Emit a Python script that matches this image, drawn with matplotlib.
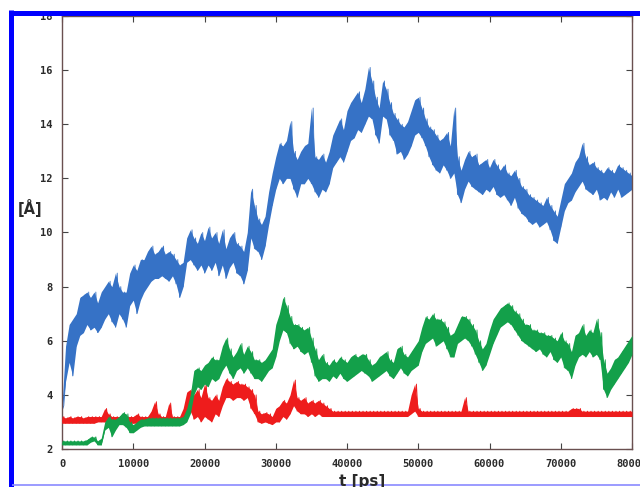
import numpy as np
import matplotlib
matplotlib.use("Agg")
import matplotlib.pyplot as plt
from matplotlib.lines import Line2D

# ---------------- data ----------------
# time axis (ps), every 500 ps; each series given as lower/upper edge of its noisy band
TIME = list(range(0, 80001, 500))

BLUE_LO = [3.4, 4.5, 5.2, 4.7, 5.8, 6.2, 6.3, 6.6, 6.4, 6.5,
           6.3, 6.5, 6.8, 7.0, 6.7, 6.5, 7.0, 6.8, 6.5, 7.3,
           7.5, 7.0, 7.5, 7.8, 8.0, 8.2, 8.3, 8.3, 8.4, 8.3,
           8.2, 8.4, 8.1, 7.6, 8.0, 8.9, 9.0, 8.8, 8.6, 8.8,
           8.5, 8.8, 8.6, 8.9, 8.4, 8.8, 8.3, 8.7, 8.9, 8.5,
           8.4, 8.1, 8.6, 9.8, 9.4, 9.3, 9.0, 9.5, 10.3, 11.0,
           11.6, 12.0, 11.8, 12.0, 12.0, 11.6, 11.3, 11.8, 11.8, 12.0,
           11.8, 11.5, 11.3, 11.6, 11.5, 11.8, 12.4, 12.6, 12.8, 12.6,
           13.0, 13.4, 13.5, 13.8, 13.7, 14.0, 14.3, 14.2, 13.6, 13.3,
           14.3, 14.2, 13.6, 13.4, 12.9, 13.0, 12.7, 12.9, 13.2, 13.6,
           13.7, 13.5, 13.2, 12.8, 12.5, 12.3, 12.2, 12.5, 12.3, 12.0,
           12.2, 11.4, 11.1, 11.6, 11.9, 11.7, 11.6, 11.5, 11.4, 11.6,
           11.5, 11.7, 11.4, 11.3, 11.4, 11.2, 11.0, 11.3, 10.9, 10.7,
           10.6, 10.4, 10.3, 10.4, 10.2, 10.3, 10.4, 10.1, 9.7, 9.6,
           10.2, 10.8, 11.1, 11.2, 11.5, 11.7, 11.9, 11.6, 11.5, 11.4,
           11.6, 11.2, 11.3, 11.2, 11.5, 11.3, 11.6, 11.3, 11.4, 11.5,
           11.6]
BLUE_HI = [3.6, 5.8, 6.6, 6.8, 7.0, 7.6, 7.7, 7.8, 7.6, 7.8,
           7.4, 7.8, 8.0, 8.2, 8.0, 8.5, 8.0, 7.8, 7.8, 8.5,
           8.8, 8.6, 9.0, 9.0, 9.3, 9.5, 9.2, 9.3, 9.5, 9.2,
           9.3, 9.2, 9.0, 8.8, 8.9, 9.8, 10.1, 9.8, 9.6, 10.0,
           9.7, 10.2, 9.8, 10.0, 9.6, 10.1, 9.4, 9.8, 10.0, 9.6,
           9.5, 9.3, 10.0, 11.6, 11.0, 10.5, 10.3, 10.6, 11.5, 12.2,
           12.8, 13.3, 13.2, 13.4, 14.1, 13.0, 12.7, 13.0, 13.2, 13.3,
           14.6, 12.8, 12.7, 12.9, 12.6, 13.0, 13.6, 13.9, 14.2, 13.8,
           14.5, 14.8, 15.0, 15.2, 14.8, 15.3, 16.1, 15.6, 15.0, 14.6,
           15.6, 15.3, 14.8, 14.4, 14.2, 14.0, 13.9, 14.1, 14.5, 14.9,
           15.0, 14.6, 14.2, 13.9, 13.8, 13.6, 13.4, 13.5, 13.7, 13.2,
           14.6, 12.8, 12.3, 12.7, 13.0, 12.8, 12.9, 12.5, 12.6, 12.7,
           12.4, 12.7, 12.5, 12.3, 12.5, 12.2, 12.1, 12.3, 12.0, 11.7,
           11.6, 11.4, 11.3, 11.2, 11.1, 11.0, 11.3, 11.0, 10.8, 10.6,
           11.2, 11.8, 12.0, 12.2, 12.6, 12.8, 13.3, 12.8, 12.5, 12.6,
           12.4, 12.3, 12.2, 12.4, 12.3, 12.2, 12.5, 12.4, 12.3, 12.2,
           12.1]

GREEN_LO = [2.15, 2.15, 2.15, 2.15, 2.15, 2.15, 2.15, 2.15, 2.25, 2.3,
            2.15, 2.15, 2.7, 2.8, 2.45, 2.7, 2.9, 2.9, 2.8, 2.6,
            2.6, 2.7, 2.8, 2.85, 2.85, 2.85, 2.85, 2.85, 2.85, 2.85,
            2.85, 2.85, 2.85, 2.85, 2.9, 3.0, 3.3, 4.0, 4.3, 4.2,
            4.4, 4.3, 4.6, 4.5, 4.6, 4.9, 5.1, 4.8, 4.6, 4.9,
            5.0, 4.8, 5.0, 4.8, 4.6, 4.6, 4.5, 4.7, 4.9, 5.0,
            5.4, 6.0, 6.4, 6.3, 5.9, 5.7, 5.8, 5.6, 5.5, 5.6,
            5.2, 4.7, 4.5, 4.6, 4.6, 4.5, 4.7, 4.6, 4.8, 4.6,
            4.5, 4.6, 4.7, 4.8, 4.9, 4.8, 4.7, 4.5, 4.6, 4.7,
            4.8, 4.9, 4.7, 4.6, 4.8, 5.0, 4.8, 4.7, 4.9, 5.0,
            5.1, 5.6, 5.9, 6.0, 6.1, 5.8, 5.9, 6.0, 5.7, 5.4,
            5.4, 5.9, 6.0, 6.1, 6.0, 5.8, 5.5, 5.2, 4.9, 5.1,
            5.5, 5.9, 6.2, 6.5, 6.6, 6.7, 6.6, 6.4, 6.2, 6.0,
            5.9, 5.8, 5.7, 5.6, 5.7, 5.5, 5.4, 5.6, 5.3, 5.2,
            5.4, 5.0, 4.9, 4.6, 5.1, 5.4, 5.5, 5.4, 5.6, 5.4,
            5.5, 5.3, 4.2, 3.9, 4.2, 4.4, 4.6, 4.8, 5.0, 5.2,
            5.5]
GREEN_HI = [2.3, 2.3, 2.3, 2.3, 2.3, 2.3, 2.3, 2.35, 2.45, 2.45,
            2.3, 2.4, 3.0, 3.2, 3.1, 3.1, 3.2, 3.35, 3.3, 3.0,
            2.9, 3.0, 3.1, 3.1, 3.15, 3.15, 3.15, 3.15, 3.15, 3.15,
            3.15, 3.15, 3.15, 3.15, 3.2, 3.5, 4.0, 4.9, 5.0, 4.9,
            5.1, 5.2, 5.4, 5.3, 5.3, 5.8, 6.1, 5.7, 5.4, 5.6,
            5.9, 5.5, 5.8, 5.6, 5.3, 5.3, 5.2, 5.3, 5.5, 5.7,
            6.6, 7.0, 7.6, 7.3, 6.9, 6.6, 6.6, 6.5, 6.4, 6.5,
            6.1, 5.7, 5.3, 5.5, 5.2, 5.1, 5.3, 5.2, 5.4, 5.3,
            5.2, 5.4, 5.5, 5.4, 5.5, 5.5, 5.3, 5.1, 5.2, 5.4,
            5.5, 5.6, 5.3, 5.2, 5.7, 5.8, 5.5, 5.4, 5.6, 5.8,
            6.0, 6.5, 6.9, 6.8, 7.0, 6.8, 6.8, 6.7, 6.5, 6.2,
            6.3, 6.6, 6.9, 6.9, 6.8, 6.6, 6.4, 6.0, 5.7, 5.9,
            6.4, 6.8, 7.0, 7.2, 7.3, 7.4, 7.3, 7.1, 7.0, 6.8,
            6.6, 6.6, 6.4, 6.4, 6.3, 6.3, 6.2, 6.2, 6.1, 6.0,
            6.3, 6.0, 5.9, 5.6, 6.2, 6.3, 6.6, 6.2, 6.4, 6.3,
            6.8, 6.3, 5.3, 4.8, 5.0, 5.3, 5.4, 5.6, 5.8, 6.0,
            6.2]

RED_LO = [2.95, 2.95, 2.95, 2.95, 2.95, 2.95, 2.95, 2.95, 2.95, 2.95,
          3.0, 3.0, 3.0, 3.0, 2.95, 2.95, 2.95, 2.95, 2.95, 2.95,
          2.95, 2.95, 2.95, 2.95, 2.95, 3.0, 3.0, 3.0, 3.0, 3.0,
          3.0, 3.0, 3.0, 3.0, 3.1, 3.3, 3.4, 3.1, 3.2, 3.0,
          3.2, 3.1, 3.0, 3.3, 3.2, 3.6, 3.9, 3.9, 3.8, 3.9,
          3.9, 3.8, 3.9, 3.5, 3.3, 3.0, 2.95, 3.0, 2.95, 2.9,
          3.0, 3.0, 3.2, 3.1, 3.3, 3.6, 3.4, 3.3, 3.3, 3.2,
          3.3, 3.2, 3.3, 3.2, 3.2, 3.2, 3.2, 3.2, 3.2, 3.2,
          3.2, 3.2, 3.2, 3.2, 3.2, 3.2, 3.2, 3.2, 3.2, 3.2,
          3.2, 3.2, 3.2, 3.2, 3.2, 3.2, 3.2, 3.2, 3.3, 3.4,
          3.2, 3.2, 3.2, 3.2, 3.2, 3.2, 3.2, 3.2, 3.2, 3.2,
          3.2, 3.2, 3.2, 3.2, 3.2, 3.2, 3.2, 3.2, 3.2, 3.2,
          3.2, 3.2, 3.2, 3.2, 3.2, 3.2, 3.2, 3.2, 3.2, 3.2,
          3.2, 3.2, 3.2, 3.2, 3.2, 3.2, 3.2, 3.2, 3.2, 3.2,
          3.2, 3.2, 3.2, 3.2, 3.2, 3.2, 3.2, 3.2, 3.2, 3.2,
          3.2, 3.2, 3.2, 3.2, 3.2, 3.2, 3.2, 3.2, 3.2, 3.2,
          3.2]
RED_HI = [3.2, 3.15, 3.2, 3.15, 3.2, 3.2, 3.15, 3.2, 3.2, 3.2,
          3.2, 3.2, 3.5, 3.3, 3.2, 3.2, 3.2, 3.3, 3.2, 3.2,
          3.2, 3.3, 3.2, 3.2, 3.2, 3.4, 3.75, 3.3, 3.2, 3.2,
          3.7, 3.2, 3.2, 3.2, 3.5, 4.1, 4.2, 4.0, 4.2, 3.9,
          4.4, 3.9, 3.8, 4.0, 3.8, 4.3, 4.6, 4.5, 4.4, 4.5,
          4.4, 4.4, 4.3, 4.2, 4.0, 3.4, 3.3, 3.35, 3.3, 3.2,
          3.5, 3.6, 3.8, 3.7, 4.0, 4.55, 3.9, 3.8, 3.9, 3.7,
          3.8, 3.7, 3.8, 3.7, 3.6, 3.5, 3.4, 3.4, 3.4, 3.4,
          3.4, 3.4, 3.4, 3.4, 3.4, 3.4, 3.4, 3.4, 3.4, 3.4,
          3.4, 3.4, 3.4, 3.4, 3.4, 3.4, 3.4, 3.4, 4.0, 4.4,
          3.5, 3.4, 3.4, 3.4, 3.4, 3.4, 3.4, 3.4, 3.4, 3.4,
          3.4, 3.4, 3.4, 3.9, 3.4, 3.4, 3.4, 3.4, 3.4, 3.4,
          3.4, 3.4, 3.4, 3.4, 3.4, 3.4, 3.4, 3.4, 3.4, 3.4,
          3.4, 3.4, 3.4, 3.4, 3.4, 3.4, 3.4, 3.4, 3.4, 3.4,
          3.4, 3.4, 3.4, 3.5, 3.5, 3.5, 3.4, 3.4, 3.4, 3.4,
          3.4, 3.4, 3.4, 3.4, 3.4, 3.4, 3.4, 3.4, 3.4, 3.4,
          3.4]

X_TICKS = [0, 10000, 20000, 30000, 40000, 50000, 60000, 70000, 80000]
Y_TICKS = [2, 4, 6, 8, 10, 12, 14, 16, 18]
X_LABEL = "t [ps]"
Y_LABEL = "[Å]"

COLORS = {"blue": "#3672c6", "green": "#13a04a", "red": "#ee1c1c"}

# ---------------- figure ----------------
W, H = 640, 487
fig = plt.figure(figsize=(W / 100, H / 100), dpi=100)
fig.patch.set_facecolor("white")
ax = fig.add_axes([62 / W, 1 - 449 / H, (632 - 62) / W, (449 - 16) / H])

t = np.asarray(TIME, dtype=float)
half = (t[1] - t[0]) / 2.0


def trace(lo, hi):
    xs = np.column_stack([t, t + half]).ravel()
    ys = np.column_stack([np.asarray(lo), np.asarray(hi)]).ravel()
    return xs, ys


for lo, hi, c, z in [(BLUE_LO, BLUE_HI, COLORS["blue"], 2),
                     (RED_LO, RED_HI, COLORS["red"], 3),
                     (GREEN_LO, GREEN_HI, COLORS["green"], 4)]:
    ax.fill_between(t, lo, hi, color=c, lw=0, alpha=1.0, zorder=z)
    xs, ys = trace(lo, hi)
    ax.plot(xs, ys, color=c, lw=0.6, zorder=z)

ax.set_xlim(0, 80000)
ax.set_ylim(2, 18)
ax.set_xticks(X_TICKS)
ax.set_yticks(Y_TICKS)
ax.tick_params(direction="in", length=4, width=0.8, top=True, right=True,
               colors="#444444", labelcolor="#2a2a2a", pad=7)
for lab in ax.get_xticklabels() + ax.get_yticklabels():
    lab.set_fontfamily("DejaVu Sans Mono")
    lab.set_fontweight("bold")
    lab.set_fontsize(7.5)
for s in ax.spines.values():
    s.set_color("#6a5050")
    s.set_linewidth(1.0)

fig.text(18 / W, 1 - 208 / H, Y_LABEL, fontsize=10.5, fontweight="bold",
         color="#2a2a2a", ha="left", va="center")
fig.text(362 / W, 1 - 474 / H, X_LABEL, fontsize=11, fontweight="bold",
         color="#2a2a2a", ha="center", va="top")

# blue frame around the figure
fig.add_artist(Line2D([10.5 / W, 10.5 / W], [0, 1 - 10 / H], transform=fig.transFigure,
                      color="#0000ff", lw=3.6, solid_capstyle="butt"))
fig.add_artist(Line2D([8.5 / W, 1], [1 - 12.5 / H, 1 - 12.5 / H], transform=fig.transFigure,
                      color="#0000ff", lw=3.6, solid_capstyle="butt"))
fig.add_artist(Line2D([12 / W, 1], [1 - 485 / H, 1 - 485 / H], transform=fig.transFigure,
                      color="#8a8aff", lw=1.2, solid_capstyle="butt"))

fig.savefig("out.png", dpi=100)
